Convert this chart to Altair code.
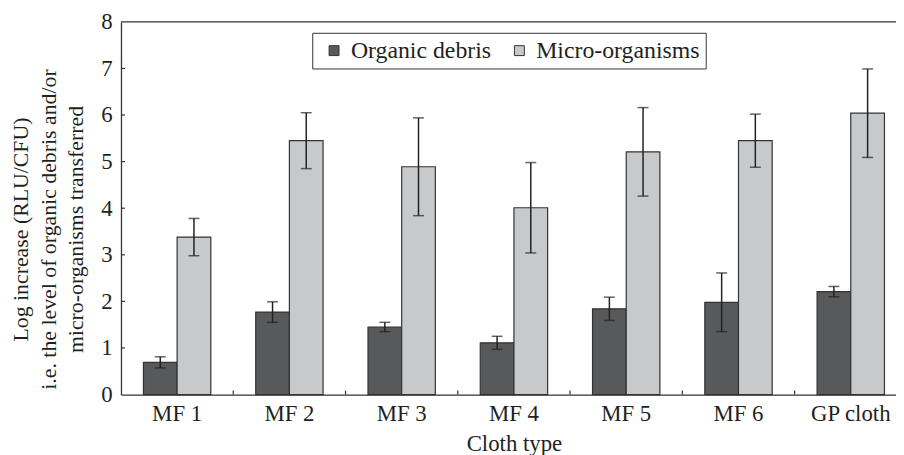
import altair as alt
import pandas as pd

categories = ["MF 1", "MF 2", "MF 3", "MF 4", "MF 5", "MF 6", "GP cloth"]
series = ["Organic debris", "Micro-organisms"]
organic = [0.69, 1.77, 1.45, 1.11, 1.84, 1.98, 2.21]
organic_err = [0.12, 0.22, 0.10, 0.14, 0.25, 0.63, 0.11]
micro = [3.38, 5.45, 4.89, 4.01, 5.21, 5.45, 6.04]
micro_err = [0.40, 0.60, 1.05, 0.97, 0.95, 0.57, 0.95]
y_ticks = [0, 1, 2, 3, 4, 5, 6, 7, 8]
colors = ["#58595b", "#c8c9cb"]

rows = []
for i, c in enumerate(categories):
    rows.append(dict(cloth=c, series=series[0], value=organic[i], err=organic_err[i]))
    rows.append(dict(cloth=c, series=series[1], value=micro[i], err=micro_err[i]))
df = pd.DataFrame(rows)
df["lo"] = df["value"] - df["err"]
df["hi"] = df["value"] + df["err"]

FONT = "Liberation Serif"
TXT = "#231f20"
W, H = 782, 376
RANGE = 793
STEP = RANGE / 7.0

xscale = alt.Scale(domain=categories, range=[0, RANGE], paddingInner=0.4, paddingOuter=0.2)
xaxis = alt.Axis(title="Cloth type", labelAngle=0, tickSize=0, labelPadding=8,
                 domainColor="#333333", domainWidth=1.3, labelFontSize=23,
                 titleFontSize=23, titleFontWeight="normal", titleY=38,
                 titleBaseline="top", labelColor=TXT, titleColor=TXT,
                 labelFont=FONT, titleFont=FONT)
yscale = alt.Scale(domain=[0, 8], nice=False)
yaxis = alt.Axis(title=["Log increase (RLU/CFU)",
                        "i.e. the level of organic debris and/or",
                        "micro-organisms transferred"],
                 values=y_ticks, tickSize=0, labelPadding=9, grid=False,
                 domainColor="#333333", domainWidth=1.3, labelFontSize=23,
                 titleFontSize=22, titleFontWeight="normal", titleLineHeight=27.5,
                 titleX=-94, titleY=209, titleBaseline="alphabetic", titleAngle=-90,
                 titleAlign="center", labelColor=TXT, titleColor=TXT,
                 labelFont=FONT, titleFont=FONT)

def X(**kw):
    return alt.X("cloth:N", scale=xscale, sort=categories, axis=xaxis, **kw)

xoff = alt.XOffset("series:N", sort=series)

base = alt.Chart(df)

bars = base.mark_bar(stroke="#333333", strokeWidth=1.2).encode(
    x=X(),
    xOffset=xoff,
    y=alt.Y("value:Q", scale=yscale, axis=yaxis),
    color=alt.Color("series:N", sort=series,
                    scale=alt.Scale(domain=series, range=colors),
                    legend=alt.Legend(title=None, orient="none", legendX=193, legendY=11,
                                      direction="horizontal", strokeColor="#333333",
                                      fillColor="white", padding=6,
                                      symbolType="square", symbolSize=100,
                                      symbolStrokeColor="#333333", symbolStrokeWidth=1,
                                      symbolOpacity=1, symbolOffset=4,
                                      labelFontSize=24, labelFont=FONT, labelColor=TXT,
                                      labelLimit=400, labelOffset=5, columnPadding=12)),
)

err = base.mark_rule(color="#222222", strokeWidth=1.5).encode(
    x=X(), xOffset=xoff,
    y=alt.Y("lo:Q", scale=yscale, axis=yaxis), y2="hi:Q",
)
cap_hi = base.mark_tick(color="#222222", size=11, thickness=1.5).encode(
    x=X(), xOffset=xoff, y=alt.Y("hi:Q", scale=yscale, axis=yaxis),
)
cap_lo = base.mark_tick(color="#222222", size=11, thickness=1.5).encode(
    x=X(), xOffset=xoff, y=alt.Y("lo:Q", scale=yscale, axis=yaxis),
)

ytick_marks = alt.Chart(pd.DataFrame({"t": y_ticks[1:-1]})).mark_rule(
    color="#333333", strokeWidth=1.2).encode(
    y=alt.Y("t:Q", scale=yscale, axis=yaxis), x=alt.value(0), x2=alt.value(4),
)
xtick_marks = alt.Chart(pd.DataFrame({"cloth": categories})).mark_rule(
    color="#333333", strokeWidth=1.2, xOffset=0.2 * STEP).encode(
    x=X(bandPosition=1), y=alt.value(H), y2=alt.value(H - 4),
)
top_frame = alt.Chart(pd.DataFrame({"k": [0]})).mark_rule(
    color="#333333", strokeWidth=1.3).encode(
    y=alt.datum(8), x=alt.value(0), x2=alt.value(W),
)

chart = alt.layer(bars, err, cap_hi, cap_lo, ytick_marks, xtick_marks, top_frame).properties(
    width=W, height=H, autosize="none",
    padding={"left": 114, "top": 12, "right": 0, "bottom": 59},
).configure(font=FONT).configure_view(stroke=None).configure_legend(strokeWidth=1)

chart.save("out.html", embed_options={"renderer": "svg", "actions": False})
